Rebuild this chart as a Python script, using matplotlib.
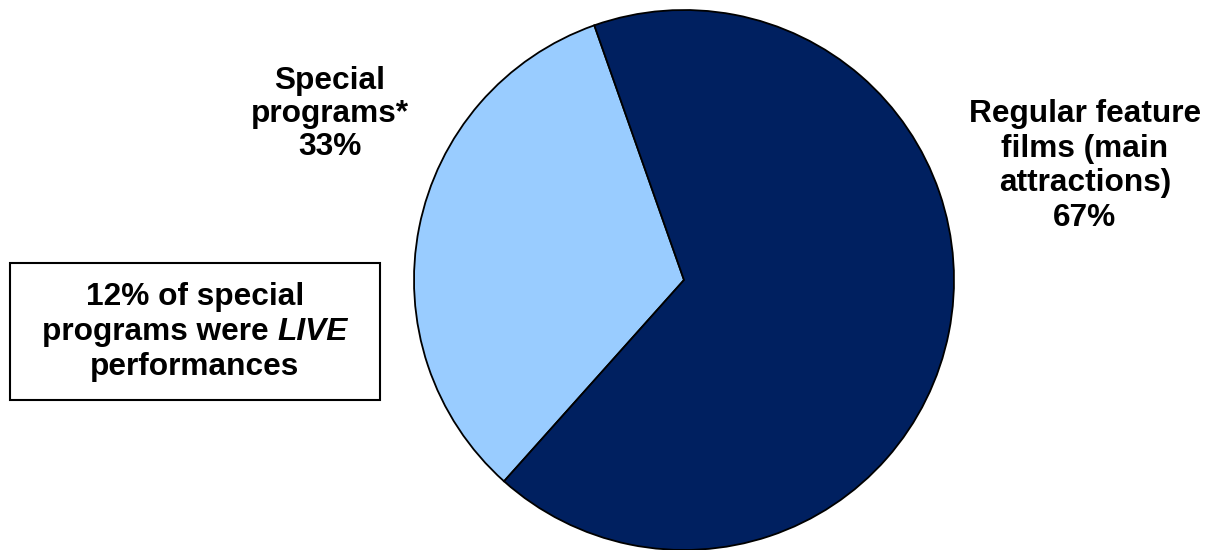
import matplotlib.pyplot as plt
from matplotlib.patches import Rectangle

labels = ["Special\nprograms*\n33%", "Regular feature\nfilms (main\nattractions)\n67%"]
shares = [33, 67]
colors = ["#99CCFF", "#002060"]
note_lines = ["12% of special", "programs were ", "LIVE", "performances"]

plt.rcParams['font.family'] = ['Liberation Sans', 'DejaVu Sans']
plt.rcParams['font.weight'] = 'bold'

fig = plt.figure(figsize=(12.05, 5.5), dpi=100)
ax = fig.add_axes([0, 0, 1, 1])

# pixel space, y measured from the bottom
ax.pie(shares, colors=colors, startangle=109.4, counterclock=True,
       center=(684, 270), radius=270, frame=True,
       wedgeprops={'edgecolor': 'black', 'linewidth': 1.3})
ax.set_xlim(0, 1205)
ax.set_ylim(0, 550)
ax.axis('off')

fs = 22.8
ax.text(330, 436, labels[0], ha='center', va='center', fontsize=fs,
        fontweight='bold', linespacing=1.13)
ax.text(1085, 384, labels[1], ha='center', va='center', fontsize=fs,
        fontweight='bold', linespacing=1.19)

# note box
ax.add_patch(Rectangle((10, 150), 370, 137, facecolor='white',
                       edgecolor='black', linewidth=1.5))
ax.text(195, 253, note_lines[0], ha='center', va='center', fontsize=fs,
        fontweight='bold')
t1 = ax.text(45, 218, note_lines[1], ha='left', va='center', fontsize=fs,
             fontweight='bold')
t2 = ax.annotate(note_lines[2], xy=(1, 0), xycoords=t1, ha='left', va='bottom',
                 fontsize=fs, fontweight='bold', style='italic')
ax.text(195, 183, note_lines[3], ha='center', va='center', fontsize=fs,
        fontweight='bold')

# center the mixed-style middle line
fig.canvas.draw()
r = fig.canvas.get_renderer()
w = t1.get_window_extent(r).width + t2.get_window_extent(r).width
t1.set_x(195 - w / 2)

fig.savefig('out.png', dpi=100)
